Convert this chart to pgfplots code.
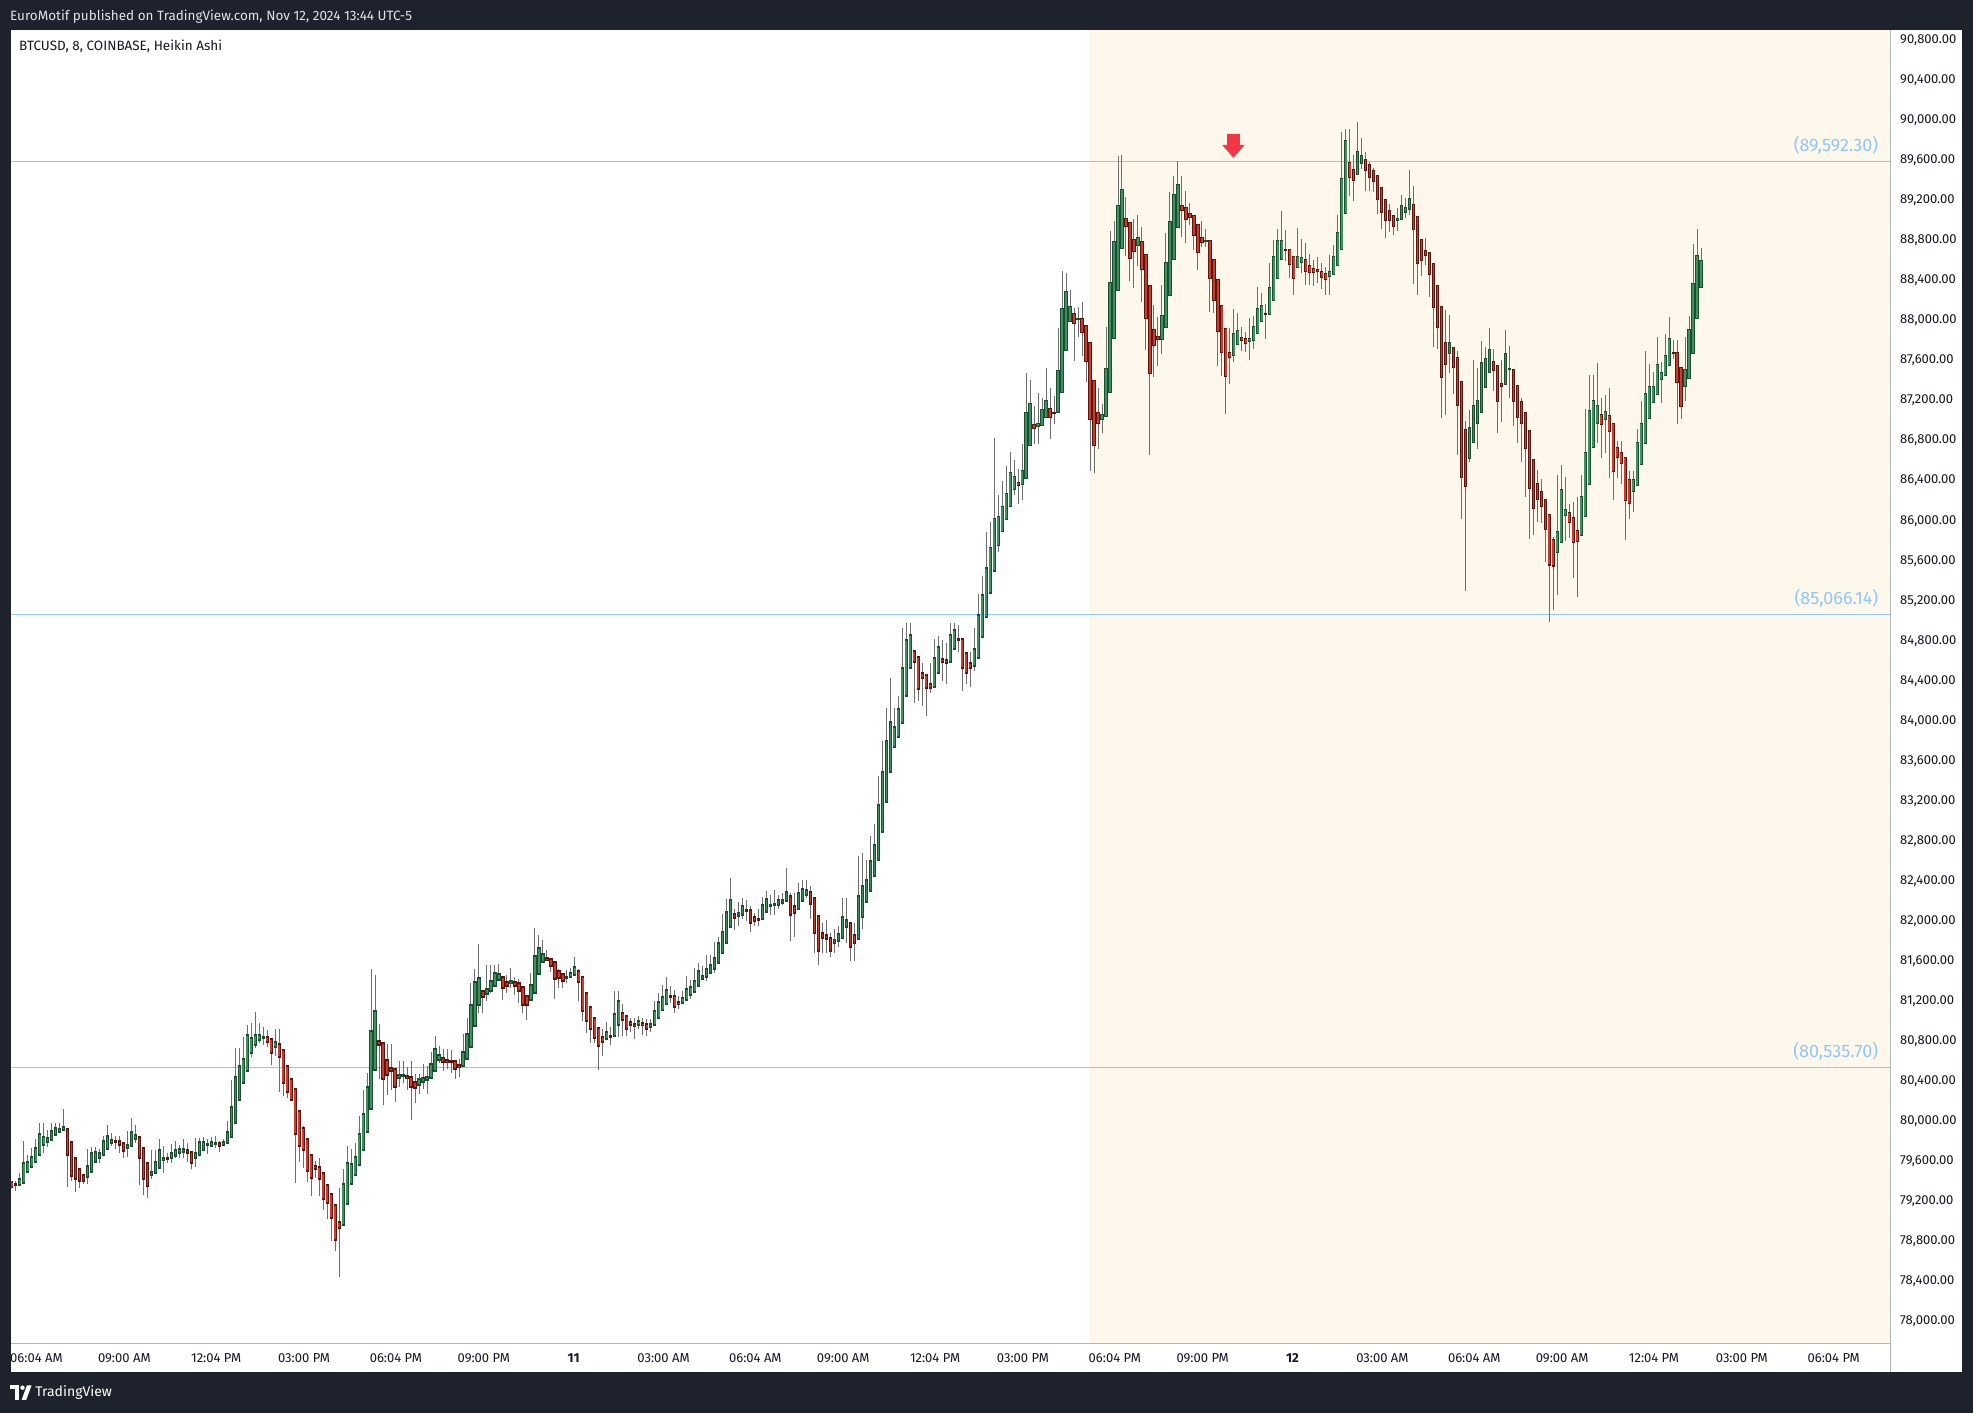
\documentclass[border=0pt]{standalone}
\usepackage{fontspec}
\setmainfont{Fira Sans}
\usepackage{pgfplots}
\usepackage{pgfplotstable}
\pgfplotsset{compat=1.18}

\definecolor{tvdark}{HTML}{1E222D}
\definecolor{tvtext}{HTML}{131722}
\definecolor{topt}{HTML}{E0E3EB}
\definecolor{cream}{HTML}{FEF7EB}
\definecolor{upfill}{HTML}{3F915F}
\definecolor{upedge}{HTML}{1D4D30}
\definecolor{dnfill}{HTML}{C73E2E}
\definecolor{dnedge}{HTML}{5B1610}
\definecolor{wickc}{HTML}{6E6E6E}
\definecolor{lblue}{HTML}{90C8F5}
\definecolor{sepc}{HTML}{B2B5BE}
\definecolor{arrowred}{HTML}{F23645}

% Heikin Ashi 8-minute candles, x = bar index
% i: bar, lo/hi: wick, bl/bh: body bottom/top
\pgfplotstableread{
i lo bl bh hi
3 79350 79360 79420 79480
4 79380 79380 79580 79800
5 79480 79490 79590 79660
6 79530 79540 79640 79730
7 79580 79590 79730 79820
8 79650 79660 79870 79980
9 79680 79760 79840 79980
10 79740 79790 79830 79910
11 79800 79810 79900 79980
12 79850 79860 79930 79980
13 79890 79890 79920 79980
14 79900 79910 79940 80120
20 79370 79440 79550 79720
21 79480 79490 79680 79740
22 79580 79590 79690 79740
23 79580 79630 79680 79720
24 79650 79660 79800 79850
25 79720 79720 79850 79960
26 79750 79780 79810 79880
30 79640 79730 79760 79900
31 79740 79750 79890 80030
32 79780 79820 79860 79960
36 79420 79460 79490 79710
37 79470 79480 79590 79710
38 79520 79530 79710 79820
39 79480 79610 79630 79750
41 79580 79630 79680 79770
42 79630 79650 79710 79800
43 79630 79680 79720 79760
44 79630 79690 79720 79820
47 79540 79630 79680 79830
48 79650 79660 79790 79830
49 79710 79710 79790 79840
50 79670 79760 79770 79820
51 79750 79750 79790 79840
52 79730 79770 79780 79850
54 79750 79760 79790 79820
55 79780 79780 79890 80000
56 79830 79840 80140 80410
57 79980 79980 80440 80730
58 80210 80210 80550 80730
59 80380 80380 80620 80840
60 80500 80500 80860 80960
61 80640 80680 80830 80980
62 80730 80760 80860 81090
63 80780 80810 80860 80980
64 80760 80830 80840 80940
67 80650 80740 80790 80920
84 78960 78960 79370 79520
85 79170 79170 79580 79750
86 79370 79370 79570 79720
87 79460 79460 79640 79780
88 79560 79560 79870 80050
89 79710 79710 80070 80310
90 79890 79890 80340 80480
91 80120 80120 80900 81520
92 80510 80510 81100 81460
98 80340 80430 80460 80600
99 80380 80450 80460 80600
103 80270 80360 80420 80470
104 80320 80390 80430 80570
105 80270 80410 80440 80550
106 80430 80430 80570 80690
107 80500 80500 80720 80850
108 80580 80610 80660 80750
114 80550 80550 80690 80870
115 80620 80620 80870 81030
116 80740 80740 81160 81380
117 80950 80950 81390 81520
118 81080 81160 81430 81770
120 81200 81270 81320 81560
121 81280 81300 81400 81560
122 81350 81350 81480 81560
123 81410 81410 81470 81570
126 81330 81380 81400 81530
131 81210 81210 81360 81480
132 81280 81280 81650 81930
133 81470 81470 81730 81860
134 81590 81590 81670 81810
140 81380 81430 81440 81510
141 81440 81440 81480 81530
142 81460 81460 81540 81640
150 80820 80820 80890 80990
152 80840 80850 81070 81300
153 80840 80960 81200 81300
158 80920 80960 81000 81050
161 80890 80940 80970 81020
162 80960 80960 81100 81200
163 81030 81030 81190 81280
164 81110 81110 81240 81360
165 81170 81170 81310 81440
169 81180 81180 81230 81300
170 81210 81210 81320 81450
171 81220 81260 81340 81410
172 81280 81290 81400 81530
173 81350 81350 81500 81580
174 81410 81420 81450 81550
175 81400 81440 81520 81660
176 81480 81480 81560 81660
177 81480 81520 81630 81790
178 81580 81580 81780 81840
179 81680 81680 81890 82070
180 81780 81780 82090 82220
181 81940 81940 82210 82430
183 81950 82050 82080 82190
184 82020 82060 82150 82230
189 82020 82020 82160 82240
190 82090 82090 82220 82300
191 82060 82150 82160 82260
192 82060 82160 82170 82310
193 82120 82160 82210 82260
194 82160 82180 82210 82280
195 82200 82200 82290 82530
198 82120 82120 82280 82380
199 82200 82200 82320 82410
200 82230 82260 82310 82410
207 81680 81780 81810 81920
208 81740 81800 81870 81950
209 81830 81830 82040 82230
210 81780 81940 82010 82230
213 81820 81820 82250 82650
214 81920 82040 82350 82680
215 82190 82190 82410 82610
216 82300 82300 82600 82850
217 82450 82450 82760 82970
218 82610 82610 83160 83450
219 82890 82890 83490 83800
220 83190 83190 83800 84130
221 83490 83490 83990 84430
222 83740 83740 83940 84130
223 83840 83840 84120 84250
224 83980 83980 84530 84930
225 84250 84250 84810 84980
226 84530 84530 84860 84980
232 84340 84340 84630 84820
233 84480 84480 84740 84850
236 84590 84590 84860 84980
237 84720 84720 84910 84980
242 84500 84550 84720 84930
243 84630 84630 85060 85270
244 84840 84840 85260 85450
245 85040 85040 85530 85890
246 85280 85280 85730 85990
247 85500 85500 86020 86830
248 85690 85750 86040 86260
249 85890 85890 86140 86400
250 86010 86010 86270 86550
251 86140 86140 86480 86690
252 86260 86310 86440 86610
254 86210 86360 86500 86770
255 86420 86420 87080 87480
256 86750 86750 87170 87410
258 86770 86940 86970 87280
259 86950 86950 87110 87230
260 87030 87030 87200 87530
263 87080 87080 87500 87930
264 87280 87280 88120 88490
265 87700 87700 88290 88470
266 87990 87990 88140 88300
268 87840 88010 88020 88140
274 86880 87010 87060 87170
275 87040 87040 87520 87940
276 87280 87280 88380 88890
277 87820 87820 88790 88990
278 88300 88300 89150 89640
279 88720 88720 89310 89650
283 88540 88750 88830 89050
289 87670 87810 88050 88350
290 87930 87930 88580 88870
291 88250 88250 88990 89280
292 88610 88610 89260 89440
293 88930 88930 89360 89590
300 88730 88790 88800 88910
307 87590 87650 87870 88120
308 87760 87760 87900 88080
311 87610 87790 87820 88030
312 87720 87800 87940 88050
313 87870 87870 88120 88330
314 87990 87990 88150 88280
316 88060 88060 88330 88570
317 88200 88200 88640 88800
318 88420 88420 88800 88910
319 88610 88610 88800 89090
323 88530 88530 88640 88920
324 88470 88580 88630 88810
331 88260 88440 88490 88650
332 88460 88460 88640 88750
333 88550 88550 88880 89050
334 88710 88710 89420 89880
335 89070 89070 89800 89910
338 89460 89460 89690 89980
339 89510 89570 89650 89820
348 88890 89000 89020 89120
349 89010 89010 89150 89250
350 89020 89080 89130 89220
351 89050 89110 89220 89500
361 87480 87670 87780 88060
366 86590 86620 86930 87110
367 86780 86780 87150 87610
368 86720 86970 87200 87530
369 87080 87080 87580 87800
370 87330 87330 87620 87740
371 87480 87480 87710 87930
375 87360 87360 87670 87910
376 87230 87510 87520 87750
388 85260 85680 85890 86460
389 85780 85780 86310 86560
390 85800 86050 86110 86440
394 85850 85850 86240 86460
395 86040 86040 86680 87120
396 86360 86360 87100 87460
397 86730 86730 87200 87460
398 86780 86970 87150 87580
400 86680 87010 87090 87260
407 86090 86290 86410 86500
408 86350 86350 86780 86920
409 86560 86560 86970 87200
410 86770 86770 87270 87700
411 87020 87020 87340 87570
412 87180 87180 87340 87490
413 87260 87260 87560 87840
414 87180 87410 87480 87590
415 87450 87450 87650 87870
416 87550 87550 87820 88040
420 87200 87340 87510 87840
421 87420 87420 87910 88050
422 87670 87670 88370 88760
423 88020 88020 88650 88910
424 88330 88330 88600 88720
}\upbars

\pgfplotstableread{
i lo bl bh hi
1 79320 79340 79390 79400
2 79300 79360 79370 79400
15 79340 79660 79920 79920
16 79400 79450 79790 79790
17 79290 79420 79630 79630
18 79330 79400 79520 79520
19 79370 79400 79460 79460
27 79720 79790 79800 79850
28 79680 79760 79800 79850
29 79630 79700 79780 79780
33 79360 79630 79840 79840
34 79260 79420 79730 79730
35 79230 79350 79580 79580
40 79580 79620 79630 79680
45 79590 79680 79710 79780
46 79520 79580 79690 79690
53 79690 79750 79780 79800
65 80740 80790 80840 80910
66 80560 80680 80820 80820
68 80290 80640 80770 80920
69 80250 80380 80710 80710
70 80230 80290 80550 80550
71 80210 80210 80420 80420
72 79380 79870 80320 80320
73 79590 79750 80100 80100
74 79530 79710 79930 79950
75 79390 79500 79820 79820
76 79250 79430 79660 79660
77 79430 79520 79550 79600
78 79250 79420 79540 79630
79 79110 79220 79480 79480
80 79020 79180 79360 79360
81 78800 79030 79270 79270
82 78700 78810 79160 79160
83 78440 78930 78990 79330
93 80420 80760 80800 80970
94 80160 80420 80780 80780
95 80260 80460 80610 80770
96 80310 80500 80530 80770
97 80190 80340 80520 80520
100 80310 80430 80450 80540
101 80010 80340 80440 80600
102 80180 80330 80390 80470
109 80500 80590 80630 80720
110 80520 80590 80610 80720
111 80480 80590 80600 80710
112 80420 80520 80600 80600
113 80440 80540 80560 80620
119 81080 81240 81300 81300
124 81210 81330 81440 81440
125 81280 81350 81390 81460
127 81260 81350 81390 81440
128 81180 81300 81380 81420
129 81080 81160 81340 81340
130 81010 81160 81250 81250
135 81600 81610 81630 81710
136 81490 81550 81620 81630
137 81220 81420 81590 81590
138 81330 81430 81500 81520
139 81330 81400 81470 81470
143 81200 81390 81500 81520
144 81000 81100 81440 81440
145 80880 81000 81280 81280
146 80780 80920 81140 81140
147 80780 80830 81030 81030
148 80510 80750 80930 80930
149 80650 80790 80840 80920
151 80760 80840 80850 80940
154 80850 81010 81080 81170
155 80850 80920 81050 81050
156 80890 80960 80990 81030
157 80820 80950 80970 81030
159 80860 80960 80980 81030
160 80850 80920 80970 81020
166 81180 81240 81250 81350
167 81080 81140 81250 81310
168 81120 81170 81190 81250
182 81910 82030 82070 82120
185 82000 82100 82110 82210
186 81890 81980 82110 82150
187 81950 82000 82040 82080
188 81950 82010 82020 82120
196 81800 82060 82250 82280
197 81840 82080 82150 82280
201 82020 82170 82290 82350
202 81680 81880 82230 82230
203 81560 81700 82050 82050
204 81680 81830 81880 81980
205 81680 81820 81860 82010
206 81640 81700 81830 81880
211 81600 81740 81980 81980
212 81600 81780 81860 81980
227 84180 84590 84700 84700
228 84200 84320 84640 84640
229 84150 84430 84480 84580
230 84050 84330 84460 84460
231 84280 84330 84370 84580
234 84400 84590 84620 84810
235 84370 84580 84610 84780
238 84690 84810 84820 84960
239 84300 84530 84820 84820
240 84370 84480 84680 84680
241 84340 84530 84580 84690
253 86170 86350 86380 86520
257 86770 86920 86960 87150
261 86820 87030 87120 87330
262 86970 87070 87080 87250
267 87600 87970 88070 88130
269 87650 87880 88020 88190
270 87390 87590 87950 87950
271 86500 87010 87780 87780
272 86480 86750 87400 87400
273 86720 86970 87080 87330
280 88640 88940 89020 89230
281 88390 88620 88980 88980
282 88320 88690 88810 89010
284 88190 88510 88790 88930
285 87710 88020 88660 88660
286 86660 87470 88350 88350
287 87440 87750 87910 88160
288 87550 87810 87840 88040
294 88830 89100 89150 89440
295 88770 89010 89130 89290
296 88950 89030 89070 89170
297 88700 88850 89050 89050
298 88500 88680 88960 88960
299 88730 88780 88830 88990
301 88090 88420 88800 88800
302 88080 88200 88610 88610
303 87550 87890 88410 88410
304 87450 87680 88150 88150
305 87070 87440 87920 87920
306 87370 87630 87680 87930
309 87700 87800 87830 87940
310 87690 87770 87820 87890
315 87820 88060 88070 88170
320 88590 88700 88710 88900
321 88420 88560 88710 88710
322 88260 88420 88640 88640
325 88350 88490 88610 88770
326 88350 88480 88550 88660
327 88340 88480 88520 88600
328 88370 88490 88510 88630
329 88310 88430 88490 88570
330 88260 88410 88470 88530
336 89240 89430 89580 89910
337 89190 89400 89510 89650
340 89290 89500 89610 89680
341 89290 89430 89560 89580
342 89280 89390 89500 89520
343 89060 89210 89450 89450
344 88910 89080 89330 89330
345 88820 89000 89210 89210
346 88880 89000 89100 89160
347 88850 88940 89050 89050
352 88360 88910 89160 89340
353 88260 88570 89040 89040
354 88440 88600 88810 88810
355 88550 88650 88700 88820
356 88240 88460 88680 88680
357 87740 88130 88570 88570
358 87720 87930 88350 88350
359 87030 87430 88140 88140
360 87060 87560 87780 88110
362 87270 87530 87730 87730
363 86660 87150 87630 87700
364 86020 86430 87390 87390
365 85300 86340 86910 87000
372 87300 87500 87590 87720
373 86880 87190 87550 87550
374 86990 87340 87370 87610
377 86950 87190 87510 87510
378 86780 87030 87350 87350
379 86590 86970 87190 87230
380 86240 86720 87080 87080
381 85820 86320 86900 86900
382 85860 86120 86610 86610
383 85990 86210 86370 86510
384 85980 86140 86290 86420
385 85590 85910 86210 86210
386 84990 85560 86060 86060
387 85110 85550 85810 85840
391 85830 85980 86080 86170
392 85430 85780 86030 86190
393 85240 85790 85900 86240
399 86630 86960 87060 87230
401 86430 86890 87050 87330
402 86210 86490 86970 86970
403 86430 86630 86730 86800
404 86370 86570 86680 86800
405 85810 86200 86630 86630
406 86020 86170 86410 86500
417 87620 87670 87680 87810
418 86970 87380 87680 87810
419 87020 87140 87530 87530
}\dnbars

\pgfplotsset{
  wick/.style={draw=none, mark=none, forget plot,
    error bars/.cd, y dir=plus, y explicit, error mark=none,
    error bar style={draw=wickc, line width=1pt}},
  body/.style={draw=none, mark=none, forget plot,
    error bars/.cd, y dir=plus, y explicit, error mark=none,
    error bar style={draw=#1, line width=3.3pt}},
  core/.style={draw=none, mark=none, forget plot,
    error bars/.cd, y dir=plus, y explicit, error mark=none,
    error bar style={draw=#1, line width=1.7pt}},
}

\begin{document}
\begin{tikzpicture}
% frame and panels (1pt = 1px of the screenshot)
\fill[tvdark] (-11.3pt,-69.1pt) rectangle (1961.7pt,1343.9pt);
\fill[white] (0pt,-27.7pt) rectangle (1950.4pt,1313.7pt);

\begin{axis}[
  scale only axis,
  width=1878.7pt, height=1313.7pt,
  xmin=0.9, xmax=471.3,
  ymin=77774, ymax=90901,
  axis line style={draw=none},
  tick style={draw=none},
  major tick length=0pt,
  scaled y ticks=false,
  ytick={78000,78400,...,90800},
  yticklabel pos=right,
  yticklabel style={anchor=west, inner sep=0pt, xshift=10pt,
    /pgf/number format/.cd, fixed, fixed zerofill, precision=2,
    1000 sep={,}, assume math mode=true},
  xtick={7.2,29.2,52.2,74.2,97.2,119.2,141.7,164.2,187.2,209.2,232.2,
         254.2,277.2,299.2,321.7,344.2,367.2,389.2,412.2,434.2,457.2},
  xticklabels={06:04 AM,09:00 AM,12:04 PM,03:00 PM,06:04 PM,09:00 PM,\textbf{11},
    03:00 AM,06:04 AM,09:00 AM,12:04 PM,03:00 PM,06:04 PM,09:00 PM,\textbf{12},
    03:00 AM,06:04 AM,09:00 AM,12:04 PM,03:00 PM,06:04 PM},
  xticklabel style={anchor=center, inner sep=0pt, yshift=-13.8pt},
  tick label style={font=\fontsize{13}{15}\selectfont, text=tvtext},
]
% session shading
\fill[cream] (axis cs:270.8,77774) rectangle (axis cs:471.3,90901);

% level lines
\draw[lblue, line width=1pt] (axis cs:0.9,89592.30) -- (axis cs:471.3,89592.30);
\draw[lblue, line width=1pt] (axis cs:0.9,85066.14) -- (axis cs:471.3,85066.14);
\draw[lblue, line width=1pt] (axis cs:0.9,80535.70) -- (axis cs:471.3,80535.70);

% wicks
\addplot[wick] table[x=i, y=lo, y error expr=\thisrow{hi}-\thisrow{lo}] {\upbars};
\addplot[wick] table[x=i, y=lo, y error expr=\thisrow{hi}-\thisrow{lo}] {\dnbars};
% bodies: dark edge, then coloured core
\addplot[body=upedge] table[x=i, y expr=\thisrow{bl}-8, y error expr=\thisrow{bh}-\thisrow{bl}+16] {\upbars};
\addplot[core=upfill] table[x=i, y expr=\thisrow{bl}+8, y error expr={max(\thisrow{bh}-\thisrow{bl}-16,0)}] {\upbars};
\addplot[body=dnedge] table[x=i, y expr=\thisrow{bl}-8, y error expr=\thisrow{bh}-\thisrow{bl}+16] {\dnbars};
\addplot[core=dnfill] table[x=i, y expr=\thisrow{bl}+8, y error expr={max(\thisrow{bh}-\thisrow{bl}-16,0)}] {\dnbars};

% level labels
\node[anchor=base east, inner sep=0pt, yshift=10pt, text=lblue, font=\fontsize{18}{20}\selectfont]
  at (axis cs:468.4,89592.30) {(89,592.30)};
\node[anchor=base east, inner sep=0pt, yshift=10pt, text=lblue, font=\fontsize{18}{20}\selectfont]
  at (axis cs:468.4,85066.14) {(85,066.14)};
\node[anchor=base east, inner sep=0pt, yshift=10pt, text=lblue, font=\fontsize{18}{20}\selectfont]
  at (axis cs:468.4,80535.70) {(80,535.70)};

% red down arrow
\fill[arrowred] (axis cs:305.3,89864) -- (axis cs:308.5,89864) -- (axis cs:308.5,89754)
  -- (axis cs:309.7,89754) -- (axis cs:306.9,89627) -- (axis cs:304.1,89754)
  -- (axis cs:305.3,89754) -- cycle;
\end{axis}

% axis separators
\draw[sepc, line width=1pt] (0pt,0pt) -- (1878.7pt,0pt);
\draw[sepc, line width=1pt] (1878.7pt,-27.7pt) -- (1878.7pt,1313.7pt);

% texts
\node[anchor=west, inner sep=0pt, text=topt, font=\fontsize{13.5}{15}\selectfont]
  at (-1.3pt,1327.5pt) {EuroMotif published on TradingView.com, Nov 12, 2024 13:44 UTC-5};
\node[anchor=west, inner sep=0pt, text=tvtext, font=\fontsize{13.5}{15}\selectfont]
  at (7.6pt,1297.3pt) {BTCUSD, 8, COINBASE, Heikin Ashi};

% TradingView mark
\fill[white] (-1.3pt,-41.6pt) rectangle (7.7pt,-45.6pt);
\fill[white] (3.4pt,-45.6pt) rectangle (7.7pt,-56.1pt);
\fill[white] (11.2pt,-43.8pt) circle (2.2pt);
\fill[white] (15.6pt,-41.6pt) -- (20.2pt,-41.6pt) -- (14.9pt,-56.1pt) -- (10.3pt,-56.1pt) -- cycle;
\node[anchor=west, inner sep=0pt, text=white, font=\fontsize{14}{16}\selectfont]
  at (23.9pt,-49.1pt) {TradingView};
\end{tikzpicture}
\end{document}
